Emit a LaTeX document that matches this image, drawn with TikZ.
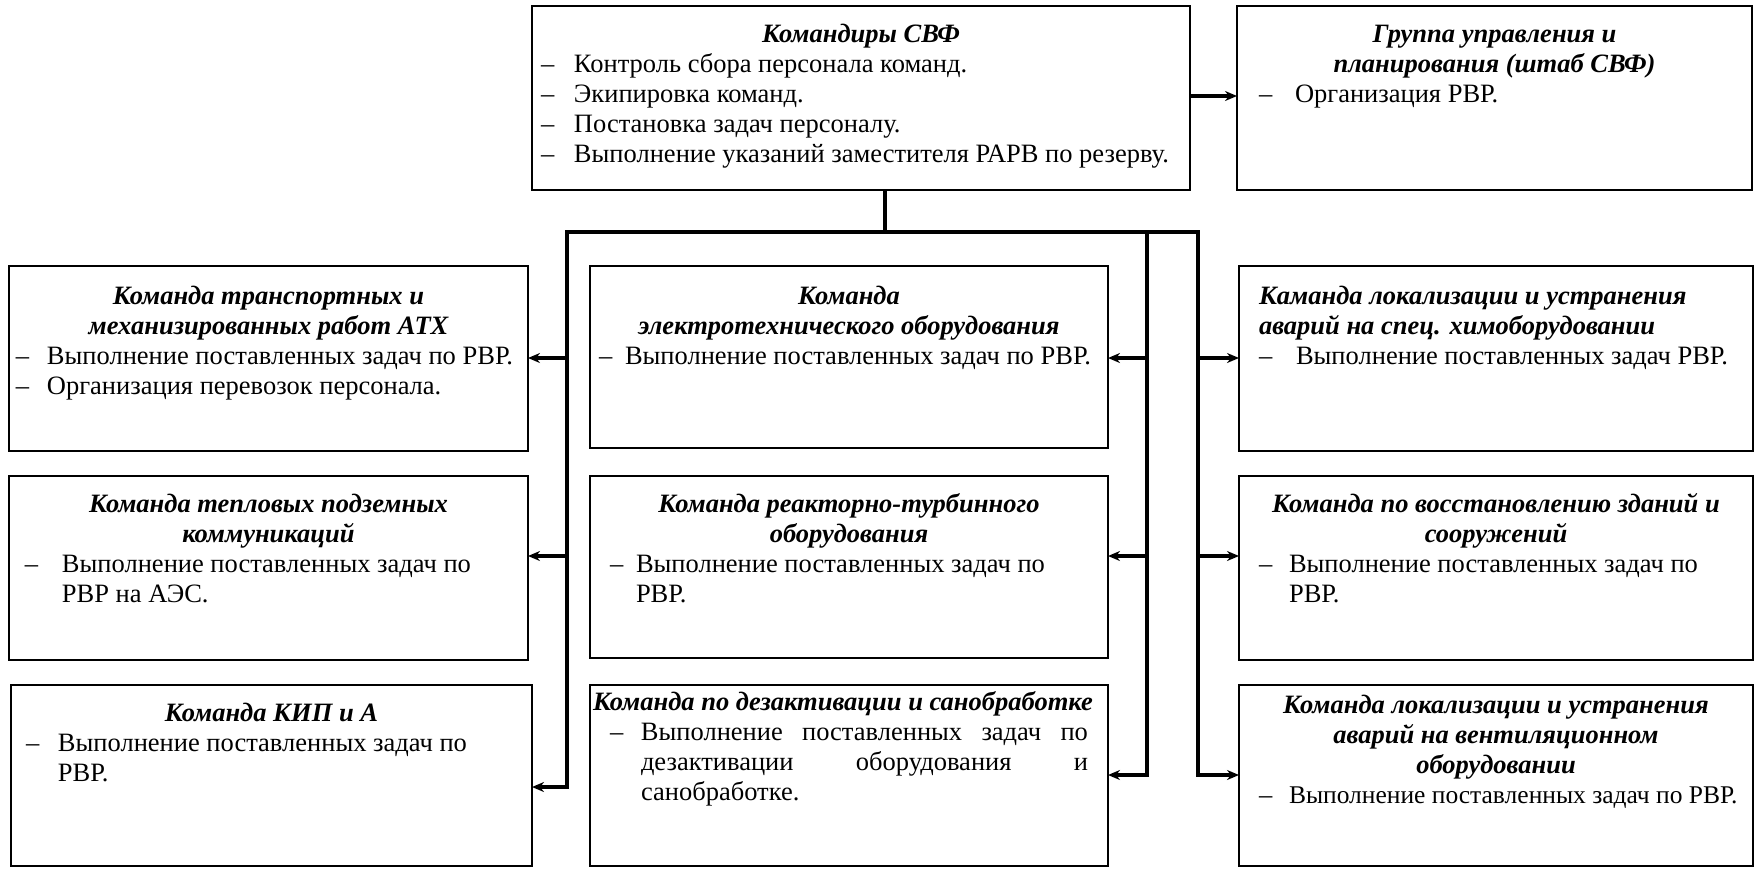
\documentclass[tikz,border=0pt]{standalone}
\usepackage{fontspec}
\setmainfont{Liberation Serif}
\usetikzlibrary{arrows.meta}
\newcommand\FS{\fontsize{26.5}{30}\selectfont}
\newcommand\lnst{\rule{0pt}{22pt}}
\newcommand\ttl[1]{\hbox to\hsize{\lnst\hfil\bfseries\itshape #1\hfil}}
\newcommand\ttll[2]{\hbox to\hsize{\lnst\hspace*{#1pt}\bfseries\itshape #2\hfil}}
\newcommand\itm[3]{\hbox to\hsize{\lnst\hspace*{#1pt}\makebox[#2pt][l]{–}#3\hfil}}
\newcommand\cnt[2]{\hbox to\hsize{\lnst\hspace*{#1pt}#2\hfil}}
\newcommand\itmj[4]{\hbox to\hsize{\lnst\hspace*{#1pt}\makebox[#2pt][l]{–}#4\hspace*{#3pt}}}
\newcommand\cntj[3]{\hbox to\hsize{\lnst\hspace*{#1pt}#3\hspace*{#2pt}}}
\newcommand\bx[4]{\parbox[t][#2pt][t]{#1pt}{\FS\baselineskip=30pt\lineskiplimit=-100pt\vspace*{\dimexpr#3pt-22pt\relax}#4}}
\begin{document}
\begin{tikzpicture}[x=1pt,y=-1pt,
  box/.style={draw, line width=2pt, inner sep=0pt, outer sep=0pt, anchor=north west},
  conn/.style={line width=3.2pt},
  arr/.style={line width=3.2pt, -{Stealth[length=12pt,width=10pt]}}]
\useasboundingbox (0,0) rectangle (1755,868);

\node[box] (cmd) at (532,6) {\bx{658}{184}{36}{%
  \ttl{Командиры СВФ}
  \itm{9}{33}{Контроль сбора персонала команд.}
  \itm{9}{33}{Экипировка команд.}
  \itm{9}{33}{Постановка задач персоналу.}
  \itm{9}{33}{Выполнение указаний заместителя РАРВ по резерву.}}};

\node[box] (grp) at (1237,6) {\bx{515}{184}{36}{%
  \ttl{Группа управления и}
  \ttl{планирования (штаб СВФ)}
  \itm{22}{36}{Организация РВР.}}};

\node[box] (atx) at (9,266) {\bx{519}{185}{38}{%
  \ttl{Команда транспортных и}
  \ttl{механизированных работ АТХ}
  \itm{7}{31}{Выполнение поставленных задач по РВР.}
  \itm{7}{31}{Организация перевозок персонала.}}};

\node[box] (tep) at (9,476) {\bx{519}{184}{36}{%
  \ttl{Команда тепловых подземных}
  \ttl{коммуникаций}
  \itm{16}{37}{Выполнение поставленных задач по}
  \cnt{53}{РВР на АЭС.}}};

\node[box] (kip) at (11,685) {\bx{521}{181}{36}{%
  \ttl{Команда КИП и А}
  \itm{15}{32}{Выполнение поставленных задач по}
  \cnt{47}{РВР.}}};

\node[box] (ele) at (590,266) {\bx{518}{182}{38}{%
  \ttl{Команда}
  \ttl{электротехнического оборудования}
  \itm{9}{26}{Выполнение поставленных задач по РВР.}}};

\node[box] (rea) at (590,476) {\bx{518}{182}{36}{%
  \ttl{Команда реакторно-турбинного}
  \ttl{оборудования}
  \itm{20}{26}{Выполнение поставленных задач по}
  \cnt{46}{РВР.}}};

\node[box] (dez) at (590,685) {\bx{518}{181}{25}{%
  \ttll{3}{Команда по дезактивации и санобработке}
  \itmj{20}{31}{20}{Выполнение\hfill поставленных\hfill задач\hfill по}
  \cntj{51}{20}{дезактивации\hfill оборудования\hfill и}
  \cnt{51}{санобработке.}}};

\node[box] (ra) at (1239,266) {\bx{514}{185}{38}{%
  \ttll{20}{Каманда локализации и устранения}
  \ttll{20}{аварий на спец. химоборудовании}
  \itm{20}{37}{Выполнение поставленных задач РВР.}}};

\node[box] (rb) at (1239,476) {\bx{514}{184}{36}{%
  \ttl{Команда по восстановлению зданий и}
  \ttl{сооружений}
  \itm{20}{30}{Выполнение поставленных задач по}
  \cnt{50}{РВР.}}};

\node[box] (rc) at (1239,685) {\bx{514}{181}{28}{%
  \ttl{Команда локализации и устранения}
  \ttl{аварий на вентиляционном}
  \ttl{оборудовании}
  \itm{20}{30}{\fontsize{25.5}{30}\selectfont Выполнение поставленных задач по РВР.}}};

% connector coordinates
\coordinate (yT) at (0,96);
\coordinate (busS) at (885,232);
\coordinate (bL) at (567,232);
\coordinate (bM) at (1147,232);
\coordinate (bR) at (1198,232);
\coordinate (y1) at (0,358);
\coordinate (y2) at (0,556);
\coordinate (y3) at (0,775);
\coordinate (y3L) at (0,787);

\draw[arr] (cmd.east |- yT) -- (grp.west |- yT);
\draw[conn] (busS |- cmd.south) -- (busS);
\draw[arr] (busS) -- (bL) |- (kip.east |- y3L);
\draw[arr] (busS) -- (bR) |- (rc.west |- y3);
\draw[arr] (bM) |- (dez.east |- y3);
\draw[arr] (bL |- y1) -- (atx.east |- y1);
\draw[arr] (bL |- y2) -- (tep.east |- y2);
\draw[arr] (bM |- y1) -- (ele.east |- y1);
\draw[arr] (bM |- y2) -- (rea.east |- y2);
\draw[arr] (bR |- y1) -- (ra.west |- y1);
\draw[arr] (bR |- y2) -- (rb.west |- y2);
\end{tikzpicture}
\end{document}
